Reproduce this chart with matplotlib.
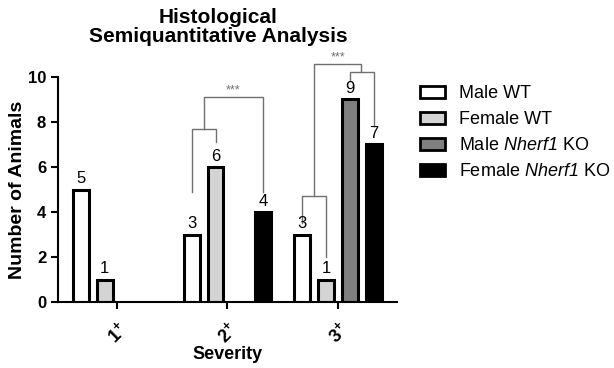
import numpy as np
import matplotlib
matplotlib.use("Agg")
import matplotlib.pyplot as plt
from matplotlib.patches import Patch

plt.rcParams['font.family'] = ['Liberation Sans', 'DejaVu Sans']
plt.rcParams['mathtext.fontset'] = 'custom'
plt.rcParams['mathtext.rm'] = 'Liberation Sans:italic'
plt.rcParams['mathtext.it'] = 'Liberation Sans:italic'
plt.rcParams['mathtext.bf'] = 'Liberation Sans:bold'

# data
categories = ['1', '2', '3']
groups = ['Male WT', 'Female WT', 'Male $\\mathit{Nherf1}$ KO', 'Female $\\mathit{Nherf1}$ KO']
male_wt = [5, 3, 3]
female_wt = [1, 6, 1]
male_ko = [0, 0, 9]
female_ko = [0, 4, 7]
colors = ['white', '#d4d4d4', '#7f7f7f', 'black']

series = [male_wt, female_wt, male_ko, female_ko]
x = np.arange(len(categories))
width = 0.144
offsets = [-0.324, -0.108, 0.108, 0.324]

fig = plt.figure(figsize=(6.14, 3.68), dpi=100)
ax = fig.add_axes([0.0945, 0.179, 0.552, 0.612])

for vals, off, c in zip(series, offsets, colors):
    for xi, v in zip(x, vals):
        if v == 0:
            continue
        ax.bar(xi + off, v, width, color=c, edgecolor='black', linewidth=2.2)
        ax.text(xi + off, v + 0.15, str(v), ha='center', va='bottom', fontsize=12)

ax.set_xlim(-0.53, 2.53)
ax.set_ylim(0, 10)
ax.set_yticks([0, 2, 4, 6, 8, 10])
ax.set_xticks(x)
ax.set_xticklabels([c + '$^{\\mathbf{+}}$' for c in categories], rotation=45,
                   fontweight='bold', fontsize=13, ha='right', va='top',
                   rotation_mode='anchor')
for lbl in ax.get_yticklabels():
    lbl.set_fontweight('bold')
    lbl.set_fontsize(12)
ax.spines['top'].set_visible(False)
ax.spines['right'].set_visible(False)
ax.spines['left'].set_linewidth(1.5)
ax.spines['bottom'].set_linewidth(1.5)
ax.tick_params(width=1.5, length=5)
ax.tick_params(axis='x', pad=7)
ax.set_ylabel('Number of Animals', fontweight='bold', fontsize=14, labelpad=1)
ax.set_xlabel('Severity', fontweight='bold', fontsize=13, labelpad=0)

fig.text(0.355, 0.978, 'Histological\nSemiquantitative Analysis', ha='center', va='top',
         fontweight='bold', fontsize=15, linespacing=1.0)

# significance brackets
gc = '#707070'
def line(xs, ys):
    ax.plot(xs, ys, color=gc, lw=1, clip_on=False)

# 2+
line([0.676, 0.676, 0.892, 0.892], [4.9, 7.7, 7.7, 7.1])
line([0.784, 0.784, 1.324, 1.324], [7.7, 9.1, 9.1, 4.9])
ax.text(1.05, 9.12, '***', ha='center', va='bottom', fontsize=9, color=gc)
# 3+
line([1.676, 1.676, 1.892, 1.892], [3.5, 4.7, 4.7, 2.0])
line([1.784, 1.784, 2.207, 2.207], [4.7, 10.58, 10.58, 10.2])
line([2.108, 2.108, 2.324, 2.324], [9.8, 10.2, 10.2, 7.8])
ax.text(1.995, 10.6, '***', ha='center', va='bottom', fontsize=9, color=gc)

handles = [Patch(facecolor=c, edgecolor='black', linewidth=2) for c in colors]
fig.legend(handles, groups, loc='upper left', bbox_to_anchor=(0.684, 0.768),
           frameon=False, fontsize=13, handlelength=1.4, handleheight=0.65,
           labelspacing=0.5, handletextpad=0.75, borderpad=0, borderaxespad=0)

fig.savefig('out.png', dpi=100)
